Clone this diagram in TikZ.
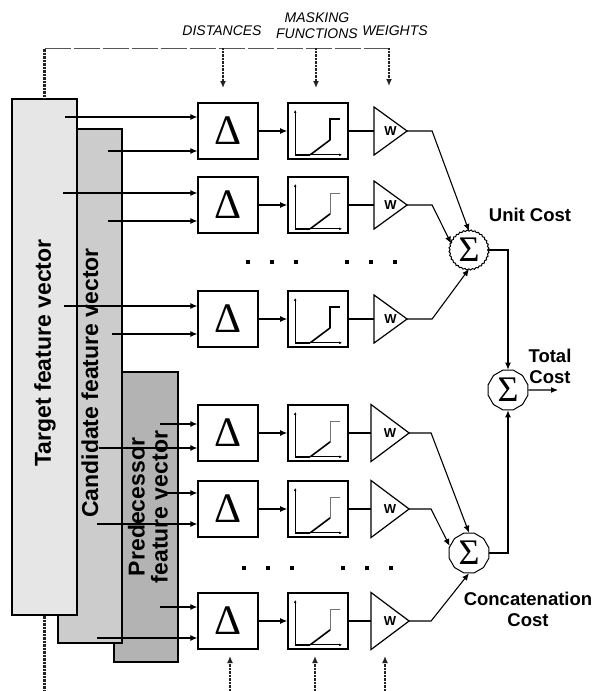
\documentclass[tikz,border=0pt]{standalone}
\usepackage{fontspec}
\setmainfont{Liberation Sans}
\newfontfamily\greekserif{Liberation Serif}
\usetikzlibrary{arrows.meta,positioning,shapes.geometric,decorations.pathmorphing}
\definecolor{tgtgray}{HTML}{E6E6E6}
\definecolor{candgray}{HTML}{CCCCCC}
\definecolor{predgray}{HTML}{B3B3B3}
\definecolor{ink}{HTML}{222222}
\definecolor{rulegray}{HTML}{555555}

\begin{document}
\begin{tikzpicture}[
  x=1pt, y=-1pt,
  line width=1.1pt,
  featbox/.style={draw, line width=1.3pt, inner sep=0pt},
  feattxt/.style={rotate=90, align=center, inner sep=0pt, font=\fontsize{23}{23}\selectfont\bfseries},
  dbox/.style={draw, line width=1.3pt, minimum width=60, minimum height=56, inner sep=0pt, font=\fontsize{42}{42}\greekserif},
  mbox/.style={draw, line width=1.6pt, minimum width=60, minimum height=56, inner sep=0pt},
  wbox/.style={inner sep=0pt, minimum width=32, minimum height=47, anchor=west, font=\fontsize{13}{13}\selectfont\bfseries},
  wboxbig/.style={wbox, minimum width=37, minimum height=56},
  sumbump/.style={circle, draw, minimum size=37, inner sep=0pt, line width=1pt, decorate, decoration={bumps, mirror, segment length=7.25pt, amplitude=1.5pt}, font=\fontsize{36}{36}\greekserif},
  sumpoly/.style={regular polygon, regular polygon sides=12, draw, minimum size=41, inner sep=0pt, line width=1pt, font=\fontsize{36}{36}\greekserif},
  arr/.style={-{Latex[length=7pt, width=6pt]}, line width=1.1pt},
  dotv/.style={line width=2.6pt, dash pattern=on 0.8pt off 0.6pt, draw=ink},
  dotarr/.style={dotv, -{Latex[length=7pt, width=6pt]}},
  dashh/.style={line width=1pt, dash pattern=on 26pt off 3pt, draw=rulegray},
  costlbl/.style={align=center, inner sep=0pt, font=\fontsize{18.5}{21}\selectfont\bfseries},
  headlbl/.style={align=center, inner sep=0pt, font=\fontsize{14}{16}\selectfont\itshape},
  dotrow/.style={inner sep=0pt},
]
\useasboundingbox (0,0) rectangle (598,691);

% feature vectors (back to front)
\node[featbox, fill=predgray, minimum width=64, minimum height=290] (pred) at (146,517) {};
\node[featbox, fill=candgray, minimum width=64, minimum height=514] (cand) at (90,386) {};
\node[feattxt] (predlbl) at (148,507) {Predecessor\\feature vector};
\node[feattxt] (candlbl) at (90,383) {Candidate feature vector};
\node[featbox, fill=tgtgray, minimum width=65, minimum height=516] (tgt) at (44.5,357) {};
\node[feattxt] (tgtlbl) at (45,353) {Target feature vector};

% headings
\node[headlbl] (hdist) at (222,31) {DISTANCES};
\node[headlbl] (hmask) at (317,26) {MASKING\\FUNCTIONS};
\node[headlbl] (hwgt) at (395,31) {WEIGHTS};

% distance, masking and weighting stages
\node[dbox] (d1) at (228,131) {Δ};
\node[dbox] (d2) at (228,205) {Δ};
\node[dbox] (d3) at (228,319) {Δ};
\node[dbox] (d4) at (228,433) {Δ};
\node[dbox] (d5) at (228,509) {Δ};
\node[dbox] (d6) at (228,621) {Δ};
\node[mbox] (m1) at (318,131) {};
\node[mbox] (m2) at (318,205) {};
\node[mbox] (m3) at (318,319) {};
\node[mbox] (m4) at (318,433) {};
\node[mbox] (m5) at (318,509) {};
\node[mbox] (m6) at (318,621) {};
\node[wbox] (w1) at (374,131) {W\hspace{8pt}};
\node[wbox] (w2) at (374,205) {W\hspace{8pt}};
\node[wbox] (w3) at (374,319) {W\hspace{8pt}};
\node[wboxbig] (w4) at (371,433) {W\hspace{10pt}};
\node[wboxbig] (w5) at (371,509) {W\hspace{10pt}};
\node[wboxbig] (w6) at (371,621) {W\hspace{10pt}};
\foreach \i in {1,...,6}
  \draw[line width=1.2pt, line join=miter] (w\i.north west) -- (w\i.east) -- (w\i.south west) -- cycle;

% masking curves
\foreach \r/\bw/\tw in {1/2pt/2pt, 2/2pt/0.5pt, 3/2pt/2pt, 4/0.6pt/0.5pt, 5/2pt/0.5pt, 6/0.6pt/0.5pt}{
  \begin{scope}[shift={(m\r.south west)}]
    \draw[line width=0.7pt, -{Latex[length=3pt, width=2.5pt]}] (8,-5) -- (55,-5);
    \draw[line width=0.7pt, -{Latex[length=3pt, width=2.5pt]}] (8,-5) -- (8,-50);
    \draw[line width=\bw] (8,-5) -- (23,-5);
    \draw[line width=1.6pt] (23,-5) -- (43,-20);
    \draw[line width=\tw, draw=black!\ifdim\tw<1pt 55\else 100\fi] (43,-20) -- (43,-41) -- (53,-41);
  \end{scope}
}

\node[dotrow] (dots1) at (272,262) {\rule{4.5pt}{4.5pt}\hspace{19.5pt}\rule{4.5pt}{4.5pt}\hspace{19.5pt}\rule{4.5pt}{4.5pt}};
\node[dotrow] (dots2) at (371,262) {\rule{4.5pt}{4.5pt}\hspace{19.5pt}\rule{4.5pt}{4.5pt}\hspace{19.5pt}\rule{4.5pt}{4.5pt}};
\node[dotrow] (dots3) at (268,568) {\rule{4.5pt}{4.5pt}\hspace{19.5pt}\rule{4.5pt}{4.5pt}\hspace{19.5pt}\rule{4.5pt}{4.5pt}};
\node[dotrow] (dots4) at (367,568) {\rule{4.5pt}{4.5pt}\hspace{19.5pt}\rule{4.5pt}{4.5pt}\hspace{19.5pt}\rule{4.5pt}{4.5pt}};

% summing junctions
\node[sumbump] (sU) at (469,250) {Σ};
\node[sumpoly] (sT) at (508,390) {Σ};
\node[sumpoly] (sC) at (469,553) {Σ};
\node[costlbl] (lblU) at (530,215) {Unit Cost};
\node[costlbl] (lblT) at (550,366) {Total\\Cost};
\node[costlbl] (lblC) at (528,609) {Concatenation\\Cost};
\coordinate (tout) at (558,390);

% feature taps
\coordinate (t1) at (65,117);
\coordinate (c1) at (108,151);
\coordinate (t2) at (63,193);
\coordinate (c2) at (108,221);
\coordinate (t3) at (64,306);
\coordinate (c3) at (112,334);
\coordinate (p4) at (160,424);
\coordinate (c4) at (99,448);
\coordinate (p5) at (165,493);
\coordinate (c5) at (97,524);
\coordinate (p6) at (160,607);
\coordinate (c6) at (97,638);
\draw[arr] (t1) -- (t1 -| d1.west);
\draw[arr] (c1) -- (c1 -| d1.west);
\draw[arr] (t2) -- (t2 -| d2.west);
\draw[arr] (c2) -- (c2 -| d2.west);
\draw[arr] (t3) -- (t3 -| d3.west);
\draw[arr] (c3) -- (c3 -| d3.west);
\draw[arr] (p4) -- (p4 -| d4.west);
\draw[arr] (c4) -- (c4 -| d4.west);
\draw[arr] (p5) -- (p5 -| d5.west);
\draw[arr] (c5) -- (c5 -| d5.west);
\draw[arr] (p6) -- (p6 -| d6.west);
\draw[arr] (c6) -- (c6 -| d6.west);

\draw[arr] (d1) -- (m1);
\draw[arr] (d2) -- (m2);
\draw[arr] (d3) -- (m3);
\draw[arr] (d4) -- (m4);
\draw[arr] (d5) -- (m5);
\draw[arr] (d6) -- (m6);
\draw (m1) -- (w1.west);
\draw (m2) -- (w2.west);
\draw (m3) -- (w3.west);
\draw (m4) -- (w4.west);
\draw (m5) -- (w5.west);
\draw (m6) -- (w6.west);

\draw[arr] (w1.east) -- ++(25,0) -- (sU.north);
\draw[arr] (w2.east) -- ++(25,0) -- (sU.160);
\draw[arr] (w3.east) -- ++(25,0) -- (sU.south);
\draw[arr] (w4.east) -- ++(22,0) -- (sC.north);
\draw[arr] (w5.east) -- ++(22,0) -- (sC.160);
\draw[arr] (w6.east) -- ++(22,0) -- (sC.south);
\draw[arr] (sU.east) -| (sT.north);
\draw[arr] (sC.east) -| (sT.south);
\draw[arr] (sT.east) -- (tout);

% control lines
\coordinate (brL) at (44.5,48);
\coordinate (brR) at (389,48);
\coordinate (aD) at (223,88);
\coordinate (aM) at (316,88);
\coordinate (aW) at (389,86);
\draw[dotv] (tgt.north) -- (brL);
\draw[dashh] (brL) -- (brR);
\draw[dotarr] (aD |- brL) -- (aD);
\draw[dotarr] (aM |- brL) -- (aM);
\draw[dotarr] (brR) -- (aW);
\coordinate (bot) at (0,691);
\coordinate (bD) at (230,656);
\coordinate (bM) at (315,656);
\coordinate (bW) at (385,656);
\draw[dotv] (tgt.south) -- (tgt.south |- bot);
\draw[dotarr] (bD |- bot) -- (bD);
\draw[dotarr] (bM |- bot) -- (bM);
\draw[dotarr] (bW |- bot) -- (bW);
\end{tikzpicture}
\end{document}
